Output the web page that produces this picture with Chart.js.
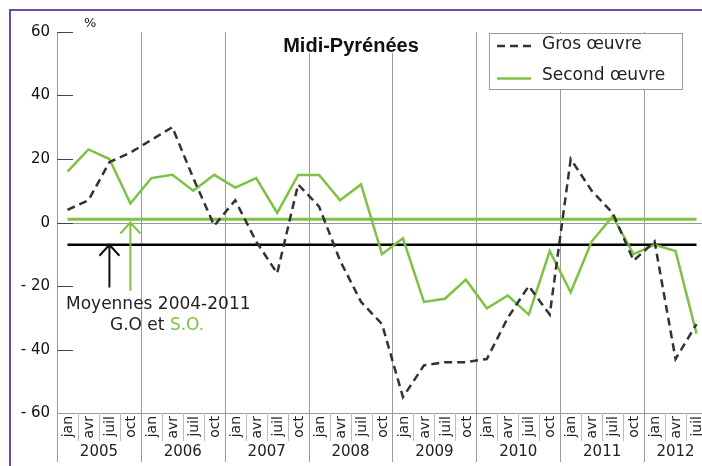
<!DOCTYPE html>
<html lang="fr">
<head>
<meta charset="utf-8">
<title>Midi-Pyrénées</title>
<script src="https://cdn.jsdelivr.net/npm/chart.js@4.4.0/dist/chart.umd.min.js"></script>
<style>
    body { margin: 0; overflow: hidden; background: #fff; }
    #wrap { position: relative; width: 712px; height: 466px; }
</style>
</head>
<body>
<div id="wrap"><canvas id="chartMidi"></canvas></div>
<script>
/* ============================ Data  ============================ */
const annees = ["2005", "2006", "2007", "2008", "2009", "2010", "2011", "2012"];
const mois = ["jan", "avr", "juil", "oct"];
const yTicks = [60, 40, 20, 0, -20, -40, -60];

const grosOeuvre = [
    4, 7, 19, 22,
    26, 30, 14, -1,
    7, -6, -16, 12,
    5, -12, -25, -32,
    -55, -45, -44, -44,
    -43, -30, -20, -29,
    20, 10, 3, -12,
    -6, -43, -32,
];
const secondOeuvre = [
    16, 23, 20, 6,
    14, 15, 10, 15,
    11, 14, 3, 15,
    15, 7, 12, -10,
    -5, -25, -24, -18,
    -27, -23, -29, -9,
    -22, -6, 2, -10,
    -7, -9, -35,
];
// moyennes 2004-2011
const moyenneGO = -7;
const moyenneSO = 1;

// one label per quarter, jan 2005 .. juil 2012
const labels = [];
annees.forEach((a) => mois.forEach((m) => {
    if (labels.length < grosOeuvre.length) labels.push(m + " " + a);
}));

const VERT = "#7dc242";
const NOIR = "#333333";
const GRIS = "#9a9a9a";

/* ============================ Decorations  ============================ */
const decor = {
    id: "decor",
    beforeDatasetsDraw(chart) {
        const { ctx, chartArea, scales } = chart;
        const x = scales.x;
        const y = scales.y;
        const step = x.getPixelForValue(1) - x.getPixelForValue(0);
        ctx.save();

        // purple frame
        ctx.fillStyle = "#7048a8";
        ctx.fillRect(9, 9, 2, 470);
        ctx.fillRect(9, 9, 760, 2);

        // axis, zero and bottom lines
        ctx.strokeStyle = GRIS;
        ctx.lineWidth = 1;
        ctx.beginPath();
        ctx.moveTo(chartArea.left + 0.5, chartArea.top);
        ctx.lineTo(chartArea.left + 0.5, chartArea.bottom + 49);
        const y0 = Math.round(y.getPixelForValue(0)) + 0.5;
        ctx.moveTo(chartArea.left, y0);
        ctx.lineTo(chartArea.right, y0);
        ctx.moveTo(chartArea.left, chartArea.bottom + 0.5);
        ctx.lineTo(chartArea.right, chartArea.bottom + 0.5);
        ctx.stroke();

        // year separators and quarter cells
        labels.forEach((lab, i) => {
            const left = Math.round(x.getPixelForValue(i) - step / 2) + 0.5;
            ctx.beginPath();
            if (i % 4 === 0) {
                ctx.strokeStyle = GRIS;
                if (i > 0) {
                    ctx.moveTo(left, chartArea.top);
                    ctx.lineTo(left, chartArea.bottom + 49);
                }
            } else {
                ctx.strokeStyle = "#bdbdbd";
                ctx.moveTo(left, chartArea.bottom);
                ctx.lineTo(left, chartArea.bottom + 28);
            }
            ctx.stroke();
        });

        // y ticks (inside) and labels
        ctx.strokeStyle = "#444";
        ctx.fillStyle = "#111";
        ctx.font = "15px 'DejaVu Sans'";
        ctx.textAlign = "right";
        ctx.textBaseline = "middle";
        yTicks.forEach((v) => {
            const py = Math.round(y.getPixelForValue(v)) + 0.5;
            if (v !== -60) {
                ctx.beginPath();
                ctx.moveTo(chartArea.left, py);
                ctx.lineTo(chartArea.left + 16, py);
                ctx.stroke();
            }
            ctx.fillText(v < 0 ? "- " + Math.abs(v) : String(v), chartArea.left - 7, py);
        });
        ctx.textAlign = "left";
        ctx.font = "13px 'DejaVu Sans'";
        ctx.fillText("%", chartArea.left + 27, chartArea.top - 8);

        // month labels (rotated) and years
        ctx.fillStyle = "#222";
        labels.forEach((lab, i) => {
            const px = x.getPixelForValue(i);
            ctx.save();
            ctx.translate(px + 1, chartArea.bottom + 3);
            ctx.rotate(-Math.PI / 2);
            ctx.font = "14px 'DejaVu Sans'";
            ctx.textAlign = "right";
            ctx.textBaseline = "middle";
            ctx.fillText(mois[i % 4], 0, 0);
            ctx.restore();
        });
        ctx.font = "15px 'DejaVu Sans'";
        ctx.textAlign = "center";
        ctx.textBaseline = "middle";
        annees.forEach((a, k) => {
            const first = k * 4;
            const last = Math.min(k * 4 + 3, labels.length - 1);
            const px = (x.getPixelForValue(first) + x.getPixelForValue(last)) / 2;
            ctx.fillText(a, px, chartArea.bottom + 39);
        });

        // averages
        const xa = x.getPixelForValue(0);
        const xb = x.getPixelForValue(labels.length - 1);
        ctx.lineWidth = 3;
        ctx.strokeStyle = VERT;
        ctx.beginPath();
        ctx.moveTo(xa, y.getPixelForValue(moyenneSO));
        ctx.lineTo(xb, y.getPixelForValue(moyenneSO));
        ctx.stroke();
        ctx.strokeStyle = "#000";
        ctx.lineWidth = 2.5;
        ctx.beginPath();
        ctx.moveTo(xa, y.getPixelForValue(moyenneGO));
        ctx.lineTo(xb, y.getPixelForValue(moyenneGO));
        ctx.stroke();

        // arrows to the averages
        const arrow = (px, tip, foot, color) => {
            ctx.strokeStyle = color;
            ctx.lineWidth = 2;
            ctx.beginPath();
            ctx.moveTo(px, foot);
            ctx.lineTo(px, tip);
            ctx.moveTo(px - 10, tip + 11);
            ctx.lineTo(px, tip);
            ctx.lineTo(px + 10, tip + 11);
            ctx.stroke();
        };
        arrow(x.getPixelForValue(2), y.getPixelForValue(moyenneGO), y.getPixelForValue(-20.5), "#111");
        arrow(x.getPixelForValue(3), y.getPixelForValue(0), y.getPixelForValue(-21.5), VERT);

        ctx.font = "17px 'DejaVu Sans'";
        ctx.textAlign = "left";
        ctx.fillStyle = "#222";
        ctx.fillText("Moyennes 2004-2011", 66, 305);
        const t1 = "G.O et ";
        ctx.fillText(t1, 110, 326);
        ctx.fillStyle = VERT;
        ctx.fillText("S.O.", 110 + ctx.measureText(t1).width, 326);

        // title and legend boxes hide the separators behind them
        ctx.fillStyle = "#fff";
        ctx.fillRect(274, chartArea.top - 1, 156, 22);
        ctx.fillStyle = "#111";
        ctx.font = "bold 20px 'Liberation Sans'";
        ctx.textAlign = "center";
        ctx.fillText("Midi-Pyrénées", 351, 46);

        ctx.fillStyle = "#fff";
        ctx.strokeStyle = GRIS;
        ctx.lineWidth = 1;
        ctx.fillRect(489, 33, 193, 56);
        ctx.strokeRect(489.5, 33.5, 193, 56);
        ctx.lineWidth = 2.5;
        ctx.strokeStyle = NOIR;
        ctx.setLineDash([8, 5]);
        ctx.beginPath();
        ctx.moveTo(497, 46);
        ctx.lineTo(532, 46);
        ctx.stroke();
        ctx.setLineDash([]);
        ctx.strokeStyle = VERT;
        ctx.beginPath();
        ctx.moveTo(497, 78.5);
        ctx.lineTo(531, 78.5);
        ctx.stroke();
        ctx.fillStyle = "#222";
        ctx.font = "17px 'DejaVu Sans'";
        ctx.textAlign = "left";
        ctx.fillText("Gros œuvre", 542, 45);
        ctx.fillText("Second œuvre", 542, 76);

        ctx.restore();
    },
};

/* ============================ Chart  ============================ */
const chartMidi = new Chart(document.getElementById("chartMidi"), {
    type: "line",
    data: {
        labels: labels,
        datasets: [
            {
                label: "Gros œuvre",
                data: grosOeuvre,
                borderColor: NOIR,
                borderWidth: 2.5,
                borderDash: [8, 5],
                pointRadius: 0,
                tension: 0,
            },
            {
                label: "Second œuvre",
                data: secondOeuvre,
                borderColor: VERT,
                borderWidth: 2.5,
                pointRadius: 0,
                tension: 0,
            },
        ],
    },
    options: {
        responsive: true,
        maintainAspectRatio: false,
        animation: false,
        layout: {
            padding: { top: 32, right: 5, left: 0, bottom: 0 },
        },
        scales: {
            x: {
                offset: true,
                grid: { display: false },
                border: { display: false },
                ticks: { display: false },
                afterFit: (scale) => { scale.height = 53; },
            },
            y: {
                min: -60,
                max: 60,
                grid: { display: false },
                border: { display: false },
                ticks: { display: false, stepSize: 20 },
                afterFit: (scale) => { scale.width = 57; },
            },
        },
        plugins: {
            legend: { display: false },
            tooltip: { enabled: false },
        },
    },
    plugins: [decor],
});
</script>
</body>
</html>
